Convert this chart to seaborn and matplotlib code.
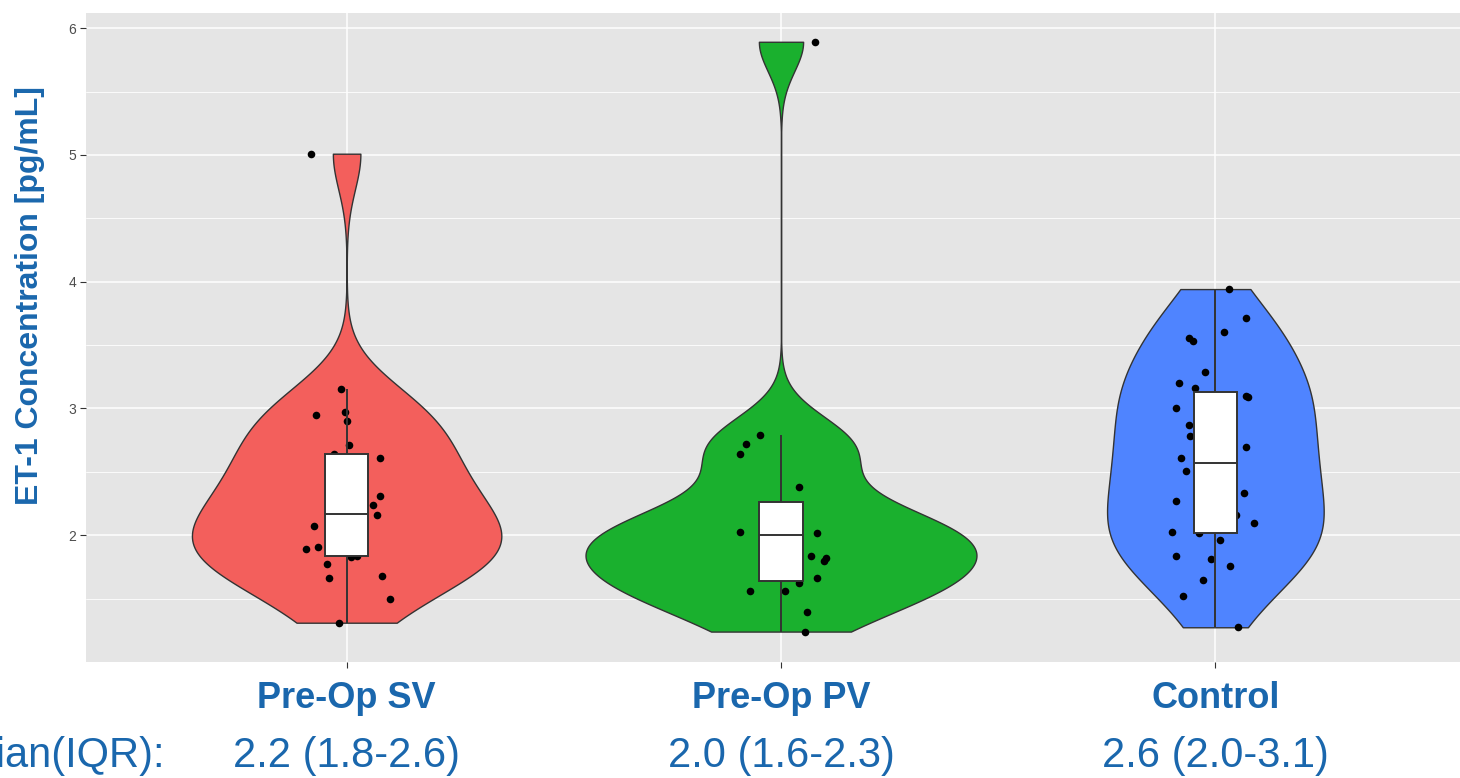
import numpy as np
import pandas as pd
import matplotlib
matplotlib.use("Agg")
import matplotlib.pyplot as plt
import matplotlib.transforms as mtransforms
from matplotlib.ticker import FixedLocator
import seaborn as sns

# ET-1 concentrations (pg/mL) per group
groups = ["Pre-Op SV", "Pre-Op PV", "Control"]

sv_values = [3.15, 2.95, 2.97, 2.90, 2.71, 2.64, 2.61, 2.31, 2.24, 2.16, 2.07,
             1.895, 1.905, 1.83, 1.84, 1.77, 1.66, 1.68, 1.495, 1.31, 5.01,
             2.00, 2.17, 2.40, 2.50]
pv_values = [2.79, 2.716, 2.637, 2.38, 2.026, 2.016, 1.84, 1.818, 1.795, 1.66,
             1.62, 1.56, 1.56, 1.395, 1.24, 5.893,
             2.00, 2.08, 2.14]
control_values = [3.942, 3.71, 3.60, 3.555, 3.53, 3.29, 3.20, 3.16, 3.10, 3.09,
                  3.00, 2.87, 2.78, 2.70, 2.61, 2.51, 2.33, 2.27, 2.16, 2.095,
                  2.026, 2.016, 1.96, 1.84, 1.816, 1.76, 1.65, 1.52, 1.274,
                  2.45, 2.57]

# horizontal jitter of each point (category units), same order as the values
sv_jitter = [-0.014, -0.070, -0.004, 0.001, 0.005, -0.028, 0.076, 0.076, 0.061, 0.071, -0.075,
             -0.094, -0.065, 0.009, 0.025, -0.046, -0.041, 0.081, 0.099, -0.018, -0.083,
             0.010, -0.020, 0.020, -0.010]
pv_jitter = [-0.048, -0.081, -0.095, 0.041, -0.095, 0.084, 0.069, 0.104, 0.098, 0.084,
             0.041, -0.071, 0.009, 0.060, 0.056, 0.078,
             -0.010, 0.020, -0.030]
control_jitter = [0.032, 0.071, 0.019, -0.061, -0.051, -0.023, -0.084, -0.046, 0.071, 0.075,
                  -0.090, -0.061, -0.058, 0.071, -0.080, -0.067, 0.067, -0.090, 0.048, 0.090,
                  -0.099, -0.038, 0.010, -0.090, -0.010, 0.033, -0.028, -0.075, 0.051,
                  0.020, -0.010]

fill_colors = ["#F35F5C", "#1AB02E", "#4F84FF"]
text_blue = "#1A67AD"

values = [sv_values, pv_values, control_values]
jitters = [sv_jitter, pv_jitter, control_jitter]

df = pd.DataFrame({
    "group": np.repeat(groups, [len(v) for v in values]),
    "conc": np.concatenate(values),
    "pos": np.concatenate([i + np.asarray(j) for i, j in enumerate(jitters)]),
})

sns.set_theme(style="darkgrid", rc={
    "axes.facecolor": "#E5E5E5",
    "grid.color": "white",
})
plt.rcParams["font.family"] = ["Liberation Sans", "DejaVu Sans"]

fig = plt.figure(figsize=(14.6, 7.78), dpi=100)
ax = fig.add_axes([86 / 1460, 116 / 778, (1476 - 86) / 1460, (662 - 13) / 778])


def nrd0(v):
    v = np.asarray(v, float)
    sd = np.std(v, ddof=1)
    q75, q25 = np.percentile(v, [75, 25])
    return 0.9 * min(sd, (q75 - q25) / 1.34) * len(v) ** -0.2


def kde_peak(v, bw):
    v = np.asarray(v, float)
    grid = np.linspace(v.min(), v.max(), 512)
    dens = np.exp(-0.5 * ((grid[:, None] - v[None, :]) / bw) ** 2).sum(1)
    return dens.max() / (len(v) * bw * np.sqrt(2 * np.pi))


# violins scaled by area: the widest density gets the full width
bws = [nrd0(v) for v in values]
peaks = [kde_peak(v, b) for v, b in zip(values, bws)]
for g, v, b, pk, c in zip(groups, values, bws, peaks, fill_colors):
    sub = df[df["group"] == g]
    sns.violinplot(data=sub, x="group", y="conc", order=groups, color=c,
                   saturation=1, bw_method=b / np.std(v, ddof=1), cut=0,
                   gridsize=512, inner=None, width=0.9 * pk / max(peaks),
                   linecolor="#333333", linewidth=1.0, ax=ax)

sns.scatterplot(data=df, x="pos", y="conc", color="black", s=30,
                linewidth=0, ax=ax, legend=False)

sns.boxplot(data=df, x="group", y="conc", order=groups, color="white",
            saturation=1, width=0.1, linecolor="#333333", linewidth=1.4,
            showfliers=False, whis=1.5, capprops={"linewidth": 0}, ax=ax)

ax.set_xlim(-0.6, 2.6)
ax.set_ylim(1.0, 6.12)
ax.set_xlabel("")
ax.set_ylabel("")

ax.xaxis.set_major_locator(FixedLocator([0, 1, 2]))
ax.set_xticklabels(groups, fontsize=26, fontweight="bold", color=text_blue)
ax.yaxis.set_major_locator(FixedLocator([2, 3, 4, 5, 6]))
ax.set_yticklabels(["2", "3", "4", "5", "6"])
ax.yaxis.set_minor_locator(FixedLocator([1.5, 2.5, 3.5, 4.5, 5.5]))
ax.tick_params(axis="x", length=4, width=0.8, color="#333333", pad=10, bottom=True)
ax.tick_params(axis="y", length=4, width=0.8, color="#333333", pad=3,
               labelsize=10, labelcolor="#4D4D4D", left=True)
ax.tick_params(which="minor", length=0)
ax.grid(which="major", color="white", linewidth=1.1)
ax.grid(which="minor", axis="y", color="white", linewidth=0.6)
ax.set_axisbelow(True)
for s in ax.spines.values():
    s.set_visible(False)

fig.text(30 / 1460, (778 - 296) / 778, "ET-1 Concentration [pg/mL]", rotation=90,
         ha="center", va="center", fontsize=23, fontweight="bold", color=text_blue)

# median (IQR) row under the category labels
trans = mtransforms.blended_transform_factory(ax.transData, fig.transFigure)
base_y = 11 / 778
fig.text(165 / 1460, base_y, "Median(IQR):", ha="right", va="baseline",
         fontsize=30, color=text_blue)
for i, v in enumerate(values):
    q1, med, q3 = np.percentile(v, [25, 50, 75])
    ax.text(i, base_y, f"{med:.1f} ({q1:.1f}-{q3:.1f})", transform=trans,
            ha="center", va="baseline", fontsize=30, color=text_blue, clip_on=False)

fig.savefig("out.png", dpi=100)
